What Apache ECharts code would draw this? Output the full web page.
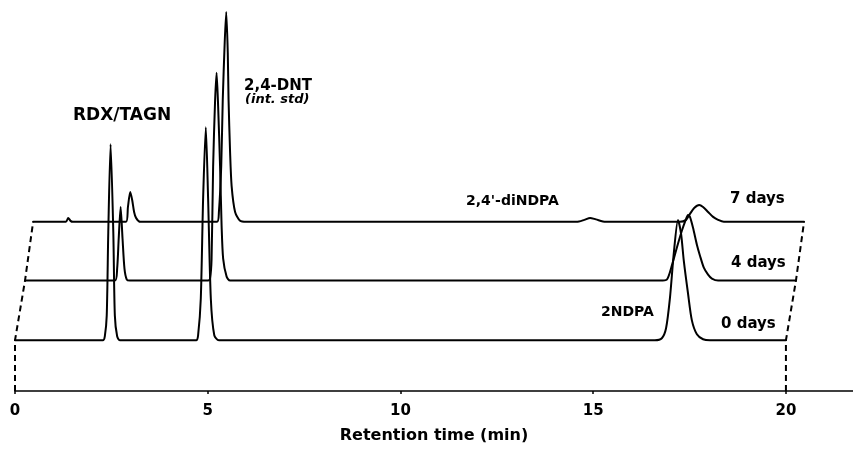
<!DOCTYPE html>
<html>
<head>
<meta charset="utf-8">
<script src="https://cdn.jsdelivr.net/npm/echarts@6/dist/echarts.min.js"></script>
<style>
  html, body { margin: 0; padding: 0; background: #fff; }
  #chart { width: 853px; height: 449px; }
</style>
</head>
<body>
<div id="chart"></div>
<script>
// run labels, horizontal shift (min) and vertical offset of each trace
const traceDays = ['0 days', '4 days', '7 days'];
const traceShiftMin = [0, 0.26, 0.47];
const traceBaseline = [0, 60, 119];
const axisLevel = -51;
const runEnd = 20;

// detector signal: [retention time (min), signal]
const trace0Days = [
  [0, 0], [2.28, 0], [2.33, 4], [2.38, 25], [2.42, 109], [2.48, 197], [2.55, 109], [2.59, 25], [2.65, 4], [2.72, 0],
  [4.70, 0], [4.75, 5], [4.82, 42], [4.88, 142], [4.95, 214], [5.01, 142], [5.08, 42], [5.17, 5], [5.29, 0],
  [16.60, 0], [16.78, 2], [16.89, 12], [16.99, 42], [17.09, 87], [17.20, 121], [17.28, 107], [17.35, 80],
  [17.46, 47], [17.56, 20], [17.69, 6], [17.85, 1], [18.03, 0], [20, 0]
];
const trace4Days = [
  [0, 0], [2.33, 0], [2.39, 12], [2.43, 42], [2.48, 74], [2.53, 42], [2.58, 12], [2.64, 1], [2.72, 0],
  [4.75, 0], [4.80, 2], [4.84, 22], [4.88, 115], [4.93, 180], [4.97, 209], [5.01, 175], [5.06, 115], [5.10, 55],
  [5.14, 22], [5.23, 4], [5.32, 0],
  [16.47, 0], [16.65, 1], [16.78, 15], [16.91, 33], [17.04, 50], [17.15, 62], [17.20, 66], [17.25, 64], [17.33, 53],
  [17.43, 36], [17.51, 25], [17.61, 13], [17.72, 6], [17.82, 2], [17.98, 0], [20, 0]
];
const trace7Days = [
  [0, 0], [0.85, 0], [0.91, 4], [0.97, 1], [1.03, 0],
  [2.41, 0], [2.46, 15], [2.52, 30], [2.57, 22], [2.62, 10], [2.67, 4], [2.78, 0],
  [4.77, 0], [4.82, 10], [4.88, 56], [4.92, 123], [4.97, 180], [5.01, 211], [5.05, 170], [5.07, 123], [5.11, 70],
  [5.15, 36], [5.24, 10], [5.37, 1], [5.53, 0],
  [14.10, 0], [14.30, 2], [14.45, 4], [14.60, 2.5], [14.85, 0],
  [16.78, 0], [16.94, 2], [17.04, 8], [17.15, 14], [17.28, 17], [17.38, 15], [17.51, 10], [17.64, 5], [17.77, 2],
  [17.92, 0], [20, 0]
];
const traces = [trace0Days, trace4Days, trace7Days];

const xTicks = [0, 5, 10, 15, 20];

const FONT = 'DejaVu Sans';

// shift each trace to its place in the stack
const traceSeries = traces.map((pts, i) => ({
  name: traceDays[i],
  type: 'line',
  data: pts.map(p => [p[0] + traceShiftMin[i], p[1] + traceBaseline[i]]),
  showSymbol: false,
  smooth: 0.25,
  clip: false,
  lineStyle: { color: '#000', width: 2, join: 'round', cap: 'round' },
  z: 3
}));

// dashed frame joining the start / end of the traces
function frame(t0) {
  const pts = [[t0, axisLevel]];
  traceShiftMin.forEach((s, i) => pts.push([t0 + s, traceBaseline[i]]));
  return {
    type: 'line',
    data: pts,
    showSymbol: false,
    clip: false,
    lineStyle: { color: '#000', width: 2, type: [6, 4] },
    z: 2
  };
}

const labelStyle = (size, extra) => Object.assign({
  fill: '#000', fontFamily: FONT, fontWeight: 'bold', fontSize: size
}, extra || {});

const chart = echarts.init(document.getElementById('chart'));
chart.setOption({
  animation: false,
  grid: { left: 15, right: 0, top: 0, bottom: 56 },
  xAxis: {
    type: 'value',
    min: 0,
    max: 21.74,
    interval: 5,
    name: 'Retention time (min)',
    nameLocation: 'middle',
    nameGap: 37,
    nameTextStyle: { color: '#000', fontFamily: FONT, fontWeight: 'bold', fontSize: 16 },
    axisLine: { onZero: false, lineStyle: { color: '#000', width: 1.5 } },
    axisTick: { length: 3, customValues: xTicks, lineStyle: { color: '#000', width: 1.5 } },
    axisLabel: {
      margin: 13,
      color: '#000',
      fontFamily: FONT,
      fontWeight: 'bold',
      fontSize: 15,
      customValues: xTicks
    },
    splitLine: { show: false }
  },
  yAxis: {
    type: 'value',
    min: axisLevel,
    max: 342,
    show: false
  },
  series: [...traceSeries, frame(0), frame(runEnd)],
  graphic: [
    { type: 'text', left: 73, top: 107, style: labelStyle(17, { text: 'RDX/TAGN' }) },
    { type: 'text', left: 244, top: 79, style: labelStyle(15, { text: '2,4-DNT' }) },
    { type: 'text', left: 245, top: 93, style: labelStyle(13, { text: '(int. std)', fontStyle: 'italic' }) },
    { type: 'text', left: 466, top: 194, style: labelStyle(14, { text: "2,4'-diNDPA" }) },
    { type: 'text', left: 601, top: 305, style: labelStyle(14, { text: '2NDPA' }) },
    { type: 'text', left: 730, top: 192, style: labelStyle(15, { text: traceDays[2] }) },
    { type: 'text', left: 731, top: 256, style: labelStyle(15, { text: traceDays[1] }) },
    { type: 'text', left: 721, top: 317, style: labelStyle(15, { text: traceDays[0] }) }
  ]
});
</script>
</body>
</html>
